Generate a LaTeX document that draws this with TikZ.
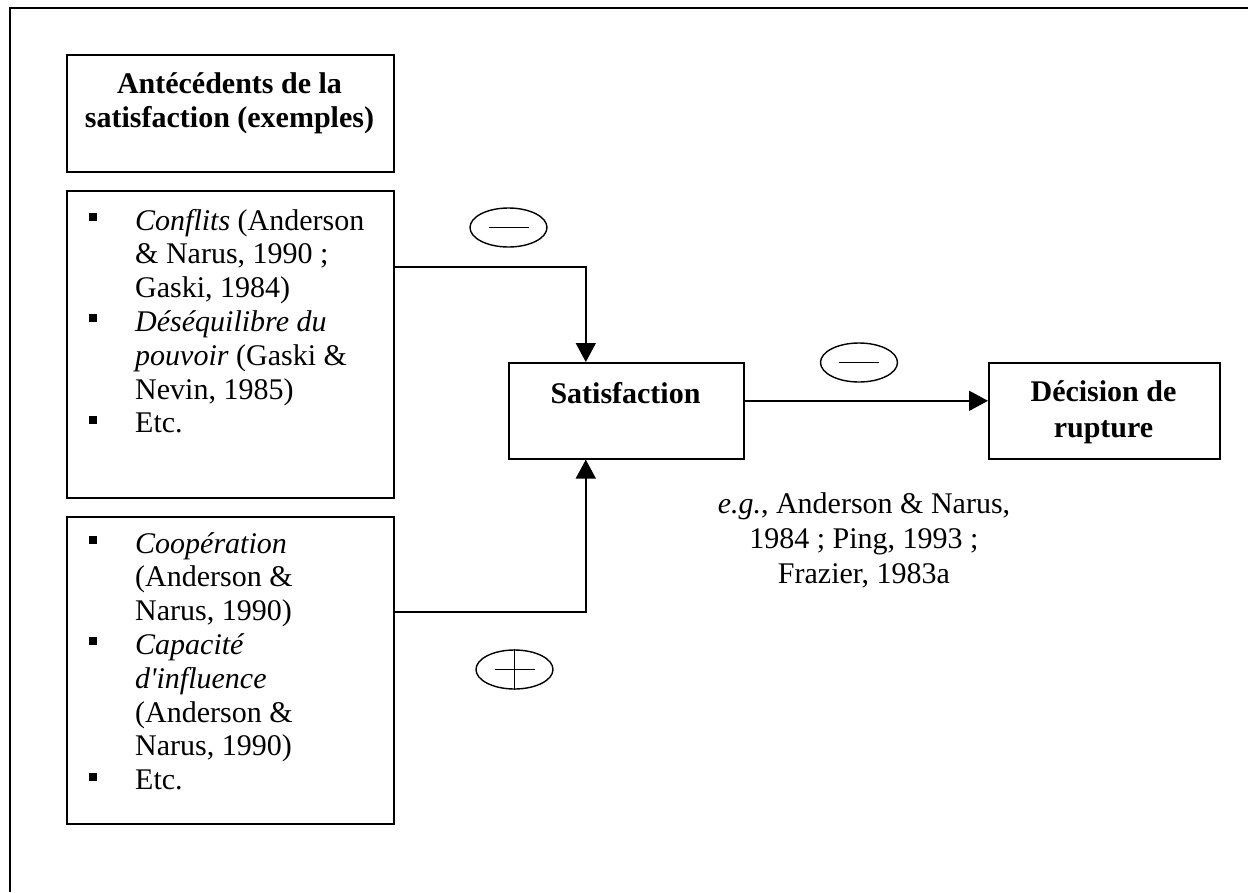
\documentclass[tikz,border=0pt]{standalone}
\usepackage{fontspec}
\setmainfont{Liberation Serif}
\newfontfamily\plainserif{Liberation Serif}
\usetikzlibrary{arrows.meta,shapes.geometric}
\tikzset{
  box/.style={draw, line width=1.6pt, rectangle, inner sep=0pt, anchor=north west},
  conn/.style={line width=1.6pt},
  tip/.style={-{Triangle[length=19pt,width=20pt]}},
  sign/.style={draw, ellipse, line width=1.4pt, minimum width=77pt, minimum height=39pt, inner sep=0pt},
  txt/.style={inner sep=0pt, font=\fontsize{30}{34}\selectfont},
  listtxt/.style={inner sep=0pt, font=\fontsize{30}{33.8}\selectfont},
  boldtxt/.style={inner sep=0pt, font=\fontsize{30}{34}\selectfont\bfseries},
}
\newcommand{\bul}{\raisebox{9pt}{\rule{8pt}{8pt}}}
\begin{document}
\begin{tikzpicture}[x=1pt,y=-1pt]
\useasboundingbox (0,0) rectangle (1248,892);
\fill[white] (0,0) rectangle (1248,892);
\draw[line width=2.4pt] (10,892) -- (10,8) -- (1248,8);

% boxes
\node[box, minimum width=327pt, minimum height=117pt] (title) at (66,54) {};
\node[box, minimum width=327pt, minimum height=307pt] (b1) at (66,190) {};
\node[box, minimum width=327pt, minimum height=307pt] (b2) at (66,516) {};
\node[box, minimum width=235pt, minimum height=96pt] (sat) at (508,362) {};
\node[box, minimum width=231pt, minimum height=96pt] (dec) at (988,362) {};

% texts
\node[boldtxt, anchor=base] (titletext) at (229.5,93)
  {\begin{tabular}[t]{@{}c@{}}Antécédents de la\\ satisfaction (exemples)\end{tabular}};
\node[listtxt, anchor=base west] (b1text) at (89,230)
  {\begin{tabular}[t]{@{}p{46pt}@{}l@{}}
   \bul & \textit{Conflits} (Anderson\\
        & \& Narus, 1990 ;\\
        & Gaski, 1984)\\
   \bul & \textit{Déséquilibre du}\\
        & \textit{pouvoir} (Gaski \&\\
        & Nevin, 1985)\\
   \bul & Etc.
  \end{tabular}};
\node[listtxt, anchor=base west] (b2text) at (89,553)
  {\begin{tabular}[t]{@{}p{46pt}@{}l@{}}
   \bul & \textit{Coopération}\\
        & (Anderson \&\\
        & Narus, 1990)\\
   \bul & \textit{Capacité}\\
        & {\plainserif\itshape d'influence}\\
        & (Anderson \&\\
        & Narus, 1990)\\
   \bul & Etc.
  \end{tabular}};
\node[boldtxt, anchor=base] (sattext) at (625.5,403) {Satisfaction};
\node[boldtxt, anchor=base, font=\fontsize{30}{36.5}\selectfont\bfseries] (dectext) at (1103.5,401)
  {\begin{tabular}[t]{@{}c@{}}Décision de\\ rupture\end{tabular}};
\node[txt, anchor=base, font=\fontsize{30}{35}\selectfont] (ref) at (864,513)
  {\begin{tabular}[t]{@{}c@{}}\textit{e.g.}, Anderson \& Narus,\\ 1984 ; Ping, 1993 ;\\ Frazier, 1983a\end{tabular}};

% signs
\node[sign] (m1) at (508.5,227.5) {};
\draw[conn] ([xshift=-20pt]m1.center) -- ([xshift=20pt]m1.center);
\node[sign] (m2) at (859,362.5) {};
\draw[conn] ([xshift=-20pt]m2.center) -- ([xshift=20pt]m2.center);
\node[sign] (p1) at (514.5,669.5) {};
\draw[conn] ([xshift=-20pt]p1.center) -- ([xshift=20pt]p1.center);
\draw[conn] (p1.north) -- (p1.south);

% connectors
\draw[conn, tip] ([yshift=77.5pt]b1.east) -| ([xshift=-40.5pt]sat.north);
\draw[conn, tip] ([yshift=58.5pt]b2.east) -| ([xshift=-40.5pt]sat.south);
\draw[conn, tip] ([yshift=10pt]sat.east) -- ([yshift=10pt]dec.west);
\end{tikzpicture}
\end{document}
